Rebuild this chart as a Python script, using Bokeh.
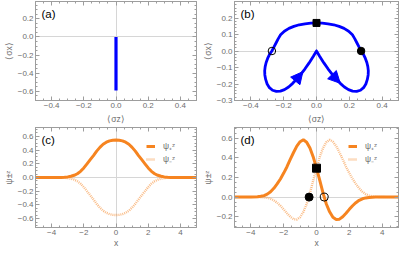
import numpy as np
from bokeh.plotting import figure
from bokeh.layouts import gridplot
from bokeh.models import (FixedTicker, LinearAxis, Label, Legend, LegendItem, Arrow,
                          NormalHead, ColumnDataSource, Range1d, CustomJSTickFormatter)
from bokeh.embed import file_html
from bokeh.resources import INLINE

# ---------------- data ----------------
# (a) Bloch-vector path (a straight segment)
a_sigma_x = [0.0, 0.0]
a_sigma_z = [0.0, -0.59]
a_xticks = [-0.4, -0.2, 0.0, 0.2, 0.4]
a_xlabels = ["−0.4", "−0.2", "0.0", "0.2", "0.4"]
a_yticks = [-0.6, -0.4, -0.2, 0.0, 0.2]
a_ylabels = ["−0.6", "−0.4", "−0.2", "0.0", "0.2"]

# (b) Bloch-vector loop: right half (cusp -> top), then left half (top -> cusp)
b_sx_right = [0.0, 0.02, 0.045, 0.07, 0.095, 0.12, 0.145, 0.17, 0.195, 0.22, 0.245, 0.268,
              0.287, 0.301, 0.31, 0.315, 0.316, 0.313, 0.307, 0.298, 0.287, 0.272, 0.259,
              0.246, 0.233, 0.219, 0.196, 0.168, 0.138, 0.105, 0.07, 0.035, 0.0]
b_sz_right = [0.0, -0.033, -0.072, -0.108, -0.14, -0.17, -0.196, -0.218, -0.234, -0.243,
              -0.245, -0.238, -0.222, -0.2, -0.172, -0.145, -0.12, -0.095, -0.07, -0.045,
              -0.022, 0.0, 0.025, 0.05, 0.075, 0.098, 0.12, 0.137, 0.149, 0.159, 0.165,
              0.169, 0.17]
b_sx_left = [-0.035, -0.07, -0.105, -0.138, -0.168, -0.196, -0.219, -0.233, -0.246, -0.259,
             -0.272, -0.287, -0.298, -0.307, -0.313, -0.316, -0.315, -0.31, -0.301, -0.287,
             -0.268, -0.245, -0.22, -0.195, -0.17, -0.145, -0.12, -0.095, -0.07, -0.045,
             -0.02, 0.0]
b_sz_left = [0.169, 0.165, 0.159, 0.149, 0.137, 0.12, 0.098, 0.075, 0.05, 0.025, 0.0,
             -0.022, -0.045, -0.07, -0.095, -0.12, -0.145, -0.172, -0.2, -0.222, -0.238,
             -0.245, -0.243, -0.234, -0.218, -0.196, -0.17, -0.14, -0.108, -0.072, -0.033, 0.0]
b_arrow_x_start = [0.12, -0.12]
b_arrow_z_start = [-0.17, -0.17]
b_arrow_x_end = [0.145, -0.083]
b_arrow_z_end = [-0.196, -0.125]
b_square = ([0.0], [0.17])
b_dot = ([0.272], [0.0])
b_ring = ([-0.272], [0.0])
b_xticks = [-0.4, -0.2, 0.0, 0.2, 0.4]
b_xlabels = ["−0.4", "−0.2", "0.0", "0.2", "0.4"]
b_yticks = [-0.3, -0.2, -0.1, 0.0, 0.1, 0.2]
b_ylabels = ["−0.3", "−0.2", "−0.1", "0.0", "0.1", "0.2"]

# (c), (d) wave functions
x_grid = [-5.0, -4.5, -4.0, -3.6, -3.4, -3.2, -3.0, -2.8, -2.6, -2.4, -2.2, -2.0, -1.8, -1.6,
          -1.4, -1.2, -1.0, -0.8, -0.6, -0.4, -0.2, 0.0, 0.2, 0.4, 0.6, 0.8, 1.0, 1.2, 1.4,
          1.6, 1.8, 2.0, 2.2, 2.4, 2.6, 2.8, 3.0, 3.2, 3.4, 3.6, 4.0, 4.5, 5.0]
c_psi_plus = [0.0, 0.0, 0.0, 0.0005, 0.001, 0.004, 0.009, 0.018, 0.032, 0.055, 0.09, 0.14,
              0.2, 0.26, 0.32, 0.385, 0.44, 0.485, 0.515, 0.535, 0.545, 0.548, 0.545, 0.535,
              0.515, 0.485, 0.44, 0.385, 0.32, 0.26, 0.2, 0.14, 0.09, 0.055, 0.032, 0.018,
              0.009, 0.004, 0.001, 0.0005, 0.0, 0.0, 0.0]
c_psi_minus = [0.0, 0.0, 0.0, -0.0005, -0.001, -0.004, -0.009, -0.018, -0.032, -0.055, -0.09,
               -0.14, -0.2, -0.26, -0.32, -0.385, -0.44, -0.485, -0.515, -0.535, -0.545,
               -0.548, -0.545, -0.535, -0.515, -0.485, -0.44, -0.385, -0.32, -0.26, -0.2,
               -0.14, -0.09, -0.055, -0.032, -0.018, -0.009, -0.004, -0.001, -0.0005, 0.0,
               0.0, 0.0]
d_psi_plus = [0.0, 0.0, 0.0005, 0.003, 0.008, 0.015, 0.03, 0.055, 0.09, 0.135, 0.185, 0.245,
              0.31, 0.385, 0.455, 0.52, 0.565, 0.585, 0.56, 0.5, 0.41, 0.295, 0.17, 0.04,
              -0.07, -0.15, -0.205, -0.228, -0.225, -0.2, -0.165, -0.125, -0.088, -0.057,
              -0.033, -0.017, -0.008, -0.003, -0.001, 0.0, 0.0, 0.0, 0.0]
d_psi_minus = [0.0, 0.0, 0.0, 0.0, -0.001, -0.003, -0.008, -0.017, -0.033, -0.057, -0.088,
               -0.125, -0.165, -0.2, -0.225, -0.228, -0.205, -0.15, -0.07, 0.04, 0.17, 0.295,
               0.41, 0.5, 0.56, 0.585, 0.565, 0.52, 0.455, 0.385, 0.31, 0.245, 0.185, 0.135,
               0.09, 0.055, 0.03, 0.015, 0.008, 0.003, 0.0005, 0.0, 0.0]
d_square = ([0.0], [0.295])
d_dot = ([-0.45], [0.0])
d_ring = ([0.47], [0.0])
x_ticks = [-4, -2, 0, 2, 4]
x_labels = ["−4", "−2", "0", "2", "4"]
c_yticks = [-0.6, -0.4, -0.2, 0.0, 0.2, 0.4, 0.6]
c_ylabels = ["−0.6", "−0.4", "−0.2", "0.0", "0.2", "0.4", "0.6"]
d_yticks = [-0.2, 0.0, 0.2, 0.4, 0.6]
d_ylabels = ["−0.2", "0.0", "0.2", "0.4", "0.6"]
legend_labels = ["ψ₊ᶻ", "ψ₋ᶻ"]

# ---------------- style ----------------
FONT = "Liberation Sans"
AX = "#9d9d9d"
TXT = "#6e6e6e"
BLUE = "#0000ff"
ORANGE = "#f68420"


def fmt(ticks, labels):
    return CustomJSTickFormatter(args=dict(T=ticks, L=labels), code="""
        let b = 0;
        for (let i = 0; i < T.length; i++) {
            if (Math.abs(T[i] - tick) < Math.abs(T[b] - tick)) { b = i; }
        }
        return L[b];
    """)


def style_axis(ax, ticks, minor, labels=None, title=None, title_standoff=2):
    ax.ticker = FixedTicker(ticks=ticks, minor_ticks=minor)
    ax.axis_line_color = AX
    ax.major_tick_line_color = AX
    ax.minor_tick_line_color = AX
    ax.major_tick_in = 4
    ax.major_tick_out = 0
    ax.minor_tick_in = 2
    ax.minor_tick_out = 0
    if labels is None:
        ax.formatter = CustomJSTickFormatter(code="return '';")
        ax.major_label_text_font_size = "0px"
        ax.major_label_standoff = 0
    else:
        ax.formatter = fmt(ticks, labels)
        ax.major_label_text_font = FONT
        ax.major_label_text_font_size = "8px"
        ax.major_label_text_color = TXT
        ax.major_label_standoff = 2
    if title is not None:
        ax.axis_label = title
        ax.axis_label_text_font = FONT
        ax.axis_label_text_font_size = "8.5px"
        ax.axis_label_text_font_style = "normal"
        ax.axis_label_text_color = TXT
        ax.axis_label_standoff = title_standoff


def make_fig(w, h, xr, yr, bl, br, bt, bb, xt, xmin, xl, yt, ymin, yl, xtitle, ytitle, tag,
             xts=3, yts=1):
    p = figure(width=w, height=h, x_range=Range1d(*xr), y_range=Range1d(*yr),
               output_backend="svg", toolbar_location=None,
               min_border_left=bl, min_border_right=br, min_border_top=bt, min_border_bottom=bb)
    p.add_layout(LinearAxis(), "above")
    p.add_layout(LinearAxis(), "right")
    style_axis(p.below[0], xt, xmin, xl, xtitle, xts)
    style_axis(p.left[0], yt, ymin, yl, ytitle, yts)
    style_axis(p.above[0], xt, xmin)
    style_axis(p.right[0], yt, ymin)
    p.xgrid.ticker = FixedTicker(ticks=[0])
    p.ygrid.ticker = FixedTicker(ticks=[0])
    p.xgrid.grid_line_color = "#d6d6d6"
    p.ygrid.grid_line_color = "#d6d6d6"
    p.outline_line_color = AX
    p.add_layout(Label(x=xr[0], y=yr[1], x_offset=6, y_offset=-6, text=tag,
                       text_baseline="top", text_align="left", text_font=FONT,
                       text_font_size="11.5px", text_color="black"))
    return p


def minor(lo, hi, step):
    return list(np.round(np.arange(lo, hi + step / 2, step), 4))


# ---------------- (a) ----------------
pa = make_fig(199, 126, (-0.5, 0.5), (-0.70, 0.39), 29, 3, 1, 26,
              a_xticks, minor(-0.5, 0.5, 0.05), a_xlabels,
              a_yticks, minor(-0.7, 0.35, 0.05), a_ylabels, "⟨σz⟩", "⟨σx⟩", "(a)")
pa.line(a_sigma_x, a_sigma_z, line_color=BLUE, line_width=3.2)

# ---------------- (b) ----------------
pb = make_fig(200, 126, (-0.5, 0.5), (-0.3, 0.3), 32, 1, 1, 26,
              b_xticks, minor(-0.5, 0.5, 0.05), b_xlabels,
              b_yticks, minor(-0.3, 0.3, 0.02), b_ylabels, "⟨σz⟩", "⟨σx⟩", "(b)")
pb.line(b_sx_right + b_sx_left, b_sz_right + b_sz_left, line_color=BLUE, line_width=2.8,
        line_join="round", line_cap="round")
arrows = ColumnDataSource(dict(xs=b_arrow_x_start, ys=b_arrow_z_start,
                               xe=b_arrow_x_end, ye=b_arrow_z_end))
pb.add_layout(Arrow(source=arrows, x_start="xs", y_start="ys", x_end="xe", y_end="ye",
                    line_alpha=0,
                    end=NormalHead(size=12, fill_color=BLUE, line_color=BLUE)))
pb.scatter(b_square[0], b_square[1], marker="square", size=7, fill_color="black",
           line_color="black")
pb.scatter(b_dot[0], b_dot[1], marker="circle", size=7.5, fill_color="black",
           line_color="black")
pb.scatter(b_ring[0], b_ring[1], marker="circle", size=7.5, fill_color=None,
           line_color="black", line_width=1)


def add_legend(p, r1, r2):
    leg = Legend(items=[LegendItem(label=legend_labels[0], renderers=[r1]),
                        LegendItem(label=legend_labels[1], renderers=[r2])],
                 location="top_right", border_line_alpha=0, background_fill_alpha=0,
                 label_text_font=FONT, label_text_font_size="8.5px", label_text_color=TXT,
                 glyph_width=9, glyph_height=8, label_height=9, label_standoff=8,
                 spacing=2, padding=2, margin=11)
    p.add_layout(leg)


# ---------------- (c) ----------------
pc = make_fig(199, 124, (-5, 5), (-0.73, 0.73), 30, 3, 1, 23,
              x_ticks, minor(-5, 5, 0.5), x_labels,
              c_yticks, minor(-0.7, 0.7, 0.05), c_ylabels, "x", "ψ±ᶻ", "(c)", xts=0)
rc2 = pc.line(x_grid, c_psi_minus, line_color=ORANGE, line_alpha=0.55, line_width=2.4,
              line_dash="1 1")
rc1 = pc.line(x_grid, c_psi_plus, line_color=ORANGE, line_width=3)
add_legend(pc, rc1, rc2)

# ---------------- (d) ----------------
pd_ = make_fig(200, 124, (-5, 5), (-0.31, 0.71), 32, 1, 1, 23,
               x_ticks, minor(-5, 5, 0.5), x_labels,
               d_yticks, minor(-0.3, 0.7, 0.05), d_ylabels, "x", "ψ±ᶻ", "(d)", xts=0)
rd2 = pd_.line(x_grid, d_psi_minus, line_color=ORANGE, line_alpha=0.55, line_width=2.4,
               line_dash="1 1")
rd1 = pd_.line(x_grid, d_psi_plus, line_color=ORANGE, line_width=3)
add_legend(pd_, rd1, rd2)
pd_.scatter(d_square[0], d_square[1], marker="square", size=8, fill_color="black",
            line_color="black")
pd_.scatter(d_dot[0], d_dot[1], marker="circle", size=8, fill_color="black",
            line_color="black")
pd_.scatter(d_ring[0], d_ring[1], marker="circle", size=8, fill_color=None,
            line_color="black", line_width=1)

grid = gridplot([[pa, pb], [pc, pd_]], toolbar_location=None)
open("out.html", "w").write(file_html(grid, INLINE))
